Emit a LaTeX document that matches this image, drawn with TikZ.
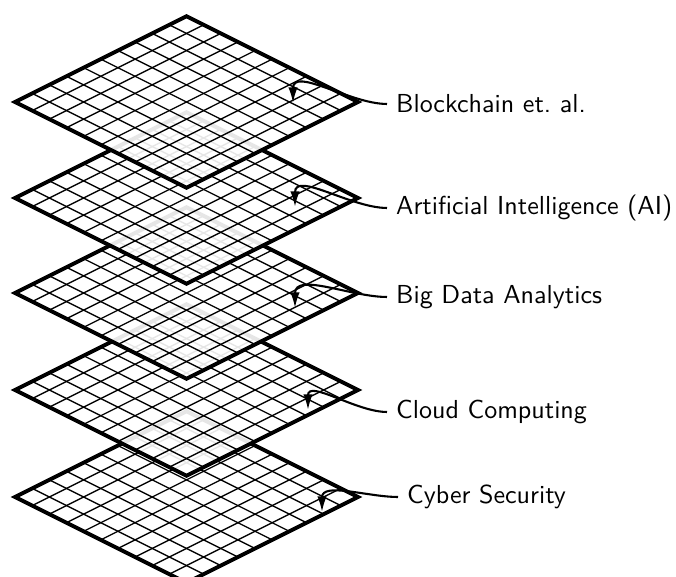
\documentclass[tikz,border=0pt]{standalone}
\usetikzlibrary{arrows.meta}
\begin{document}
\begin{tikzpicture}[x=0.0135cm, y=0.0135cm,
    layerlabel/.style={right, font=\sffamily},
    pointer/.style={-{Latex[length=6pt, width=3.6pt]}, thick}]
    \useasboundingbox (0, 0) rectangle (676, 577);
    %\draw[lightgray] (0, 0) grid (676, 577);
    % planes, from the bottom one up
    \foreach \yc in {80, 187, 284, 379, 475} {
        \begin{scope}[shift={(186.5, \yc - 85.75)},
                x={(0.231525cm, 0.1157625cm)}, y={(-0.231525cm, 0.1157625cm)}]
            \fill[white, fill opacity=0.9] (0, 0) -- (10, 0) -- (10, 10) -- (0, 10) -- cycle;
            \foreach \i in {1, ..., 9} {
                \draw[line width=0.5pt] (\i, 0) -- (\i, 10);
                \draw[line width=0.5pt] (0, \i) -- (10, \i);
            }
            \draw[line width=1.5pt] (0, 0) -- (10, 0) -- (10, 10) -- (0, 10) -- cycle;
        \end{scope}
    }
    % labels and pointers
    \node[layerlabel] (chain) at (387, 473) {Blockchain et.\ al.};
    \node[layerlabel] (ai) at (387, 369) {Artificial Intelligence (AI)};
    \node[layerlabel] (data) at (387, 280) {Big Data Analytics};
    \node[layerlabel] (cloud) at (387, 165) {Cloud Computing};
    \node[layerlabel] (cyber) at (398, 80) {Cyber Security};
    \coordinate (chaintip) at (293, 474);
    \coordinate (aitip) at (295, 370);
    \coordinate (datatip) at (295, 269);
    \coordinate (cloudtip) at (308, 167);
    \coordinate (cybertip) at (322, 65);
    \draw[pointer] (chain.west) to[out=180, in=90] (chaintip);
    \draw[pointer] (ai.west) to[out=180, in=90] (aitip);
    \draw[pointer] (data.west) to[out=180, in=90] (datatip);
    \draw[pointer] (cloud.west) to[out=180, in=90] (cloudtip);
    \draw[pointer] (cyber.west) to[out=180, in=90] (cybertip);
\end{tikzpicture}
\end{document}
